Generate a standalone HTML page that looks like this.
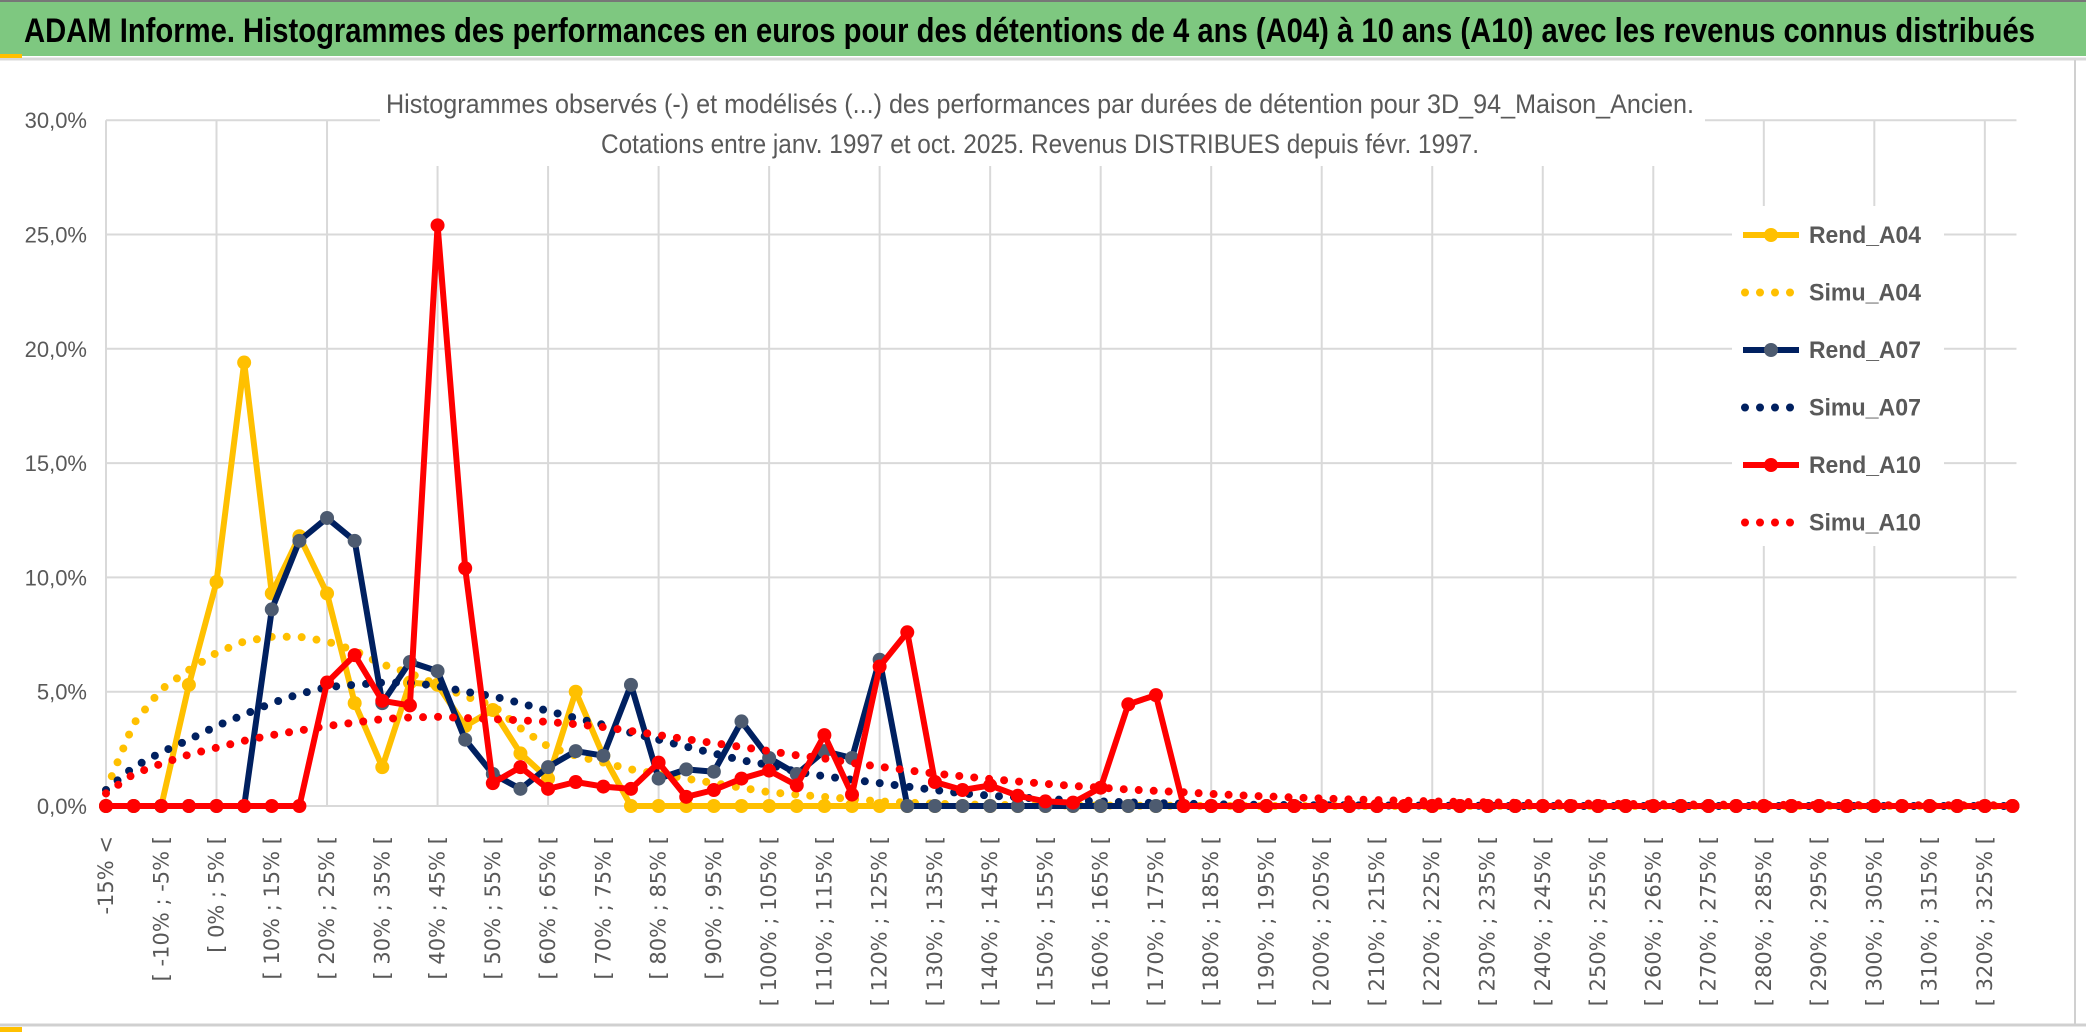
<!DOCTYPE html>
<html><head><meta charset="utf-8"><style>
html,body{margin:0;padding:0;background:#fff;}
svg{display:block;}
</style></head><body>
<svg id="chart" width="2086" height="1033" viewBox="0 0 2086 1033" xmlns="http://www.w3.org/2000/svg">
<rect x="0" y="0" width="2086" height="1033" fill="#fff"/>
<rect x="0" y="0" width="2086" height="56" fill="#7EC880"/>
<line x1="0" y1="1" x2="2086" y2="1" stroke="#777" stroke-width="2"/>
<line x1="0" y1="59" x2="2086" y2="59" stroke="#d9d9d9" stroke-width="3"/>
<rect x="0" y="54" width="22" height="4" fill="#FFC000"/>
<line x1="2075" y1="60" x2="2075" y2="1025" stroke="#d0d0d0" stroke-width="2"/>
<line x1="0" y1="1025" x2="2086" y2="1025" stroke="#d0d0d0" stroke-width="3"/>
<rect x="0" y="1027" width="22" height="5" fill="#FFC000"/>
<text x="24" y="42" font-family="Liberation Sans Narrow, Liberation Sans, sans-serif" font-weight="bold" font-size="34" fill="#000" textLength="2011" lengthAdjust="spacingAndGlyphs">ADAM Informe. Histogrammes des performances en euros pour des détentions de 4 ans (A04) à 10 ans (A10) avec les revenus connus distribués</text>
<g id="grid"></g>
<g id="yaxis"></g>
<g id="xaxis"></g>
<rect x="380" y="82" width="1325" height="84" fill="#fff"/>
<text x="1040" y="113" text-anchor="middle" font-family="Liberation Sans Narrow, Liberation Sans, sans-serif" font-size="27" fill="#595959" textLength="1308" lengthAdjust="spacingAndGlyphs">Histogrammes observés (-) et modélisés (...) des performances par durées de détention pour 3D_94_Maison_Ancien.</text>
<text x="1040" y="153" text-anchor="middle" font-family="Liberation Sans Narrow, Liberation Sans, sans-serif" font-size="27" fill="#595959" textLength="878" lengthAdjust="spacingAndGlyphs">Cotations entre janv. 1997 et oct. 2025. Revenus DISTRIBUES depuis févr. 1997.</text>
<g id="series"></g>
<rect x="1732" y="206" width="212" height="340" fill="#fff"/>
<g id="legend"></g>
</svg>
<script>
const rendA04 = [0,0,0,5.3,9.8,19.4,9.3,11.8,9.3,4.5,1.7,5.4,5.3,3.5,4.2,2.3,1.2,5.0,2.2,0,0,0,0,0,0,0,0,0,0,0,0,0,0,0,0,0,0,0,0,0,0,0,0,0,0,0,0,0,0,0,0,0,0,0,0,0,0,0,0,0,0,0,0,0,0,0,0,0,0,0];
const simuA04 = [0.7,3.6,5.1,5.95,6.7,7.2,7.4,7.4,7.2,6.8,6.2,5.8,5.3,4.8,4.4,3.4,2.6,2.2,1.9,1.6,1.4,1.2,1.0,0.8,0.6,0.5,0.4,0.3,0.2,0.15,0.1,0.07,0.05,0.04,0.03,0.02,0.02,0.01,0.01,0.01,0,0,0,0,0,0,0,0,0,0,0,0,0,0,0,0,0,0,0,0,0,0,0,0,0,0,0,0,0,0];
const rendA07 = [0,0,0,0,0,0,8.6,11.6,12.6,11.6,4.5,6.3,5.9,2.9,1.4,0.75,1.7,2.4,2.2,5.3,1.2,1.6,1.5,3.7,2.1,1.4,2.4,2.1,6.4,0,0,0,0,0,0,0,0,0,0,0,0,0,0,0,0,0,0,0,0,0,0,0,0,0,0,0,0,0,0,0,0,0,0,0,0,0,0,0,0,0];
const simuA07 = [0.7,1.7,2.35,2.9,3.5,4.0,4.5,4.9,5.2,5.3,5.4,5.4,5.25,5.0,4.8,4.5,4.15,3.85,3.55,3.2,2.9,2.6,2.3,2.0,1.8,1.5,1.3,1.15,1.0,0.85,0.7,0.55,0.45,0.38,0.3,0.25,0.2,0.16,0.13,0.1,0.08,0.06,0.05,0.04,0.03,0.03,0.02,0.02,0.01,0.01,0.01,0,0,0,0,0,0,0,0,0,0,0,0,0,0,0,0,0,0,0];
const rendA10 = [0,0,0,0,0,0,0,0,5.4,6.6,4.6,4.4,25.4,10.4,1.0,1.7,0.75,1.05,0.85,0.75,1.9,0.4,0.7,1.2,1.55,0.9,3.1,0.5,6.1,7.6,1.05,0.7,0.9,0.45,0.2,0.15,0.8,4.45,4.85,0,0,0,0,0,0,0,0,0,0,0,0,0,0,0,0,0,0,0,0,0,0,0,0,0,0,0,0,0,0,0];
const simuA10 = [0.55,1.4,1.85,2.25,2.55,2.85,3.1,3.3,3.5,3.65,3.8,3.87,3.9,3.85,3.8,3.75,3.68,3.58,3.45,3.28,3.1,2.92,2.75,2.58,2.4,2.22,2.08,1.88,1.72,1.56,1.42,1.3,1.18,1.07,0.97,0.88,0.8,0.72,0.66,0.6,0.53,0.47,0.42,0.37,0.33,0.29,0.26,0.23,0.2,0.18,0.16,0.14,0.12,0.11,0.1,0.09,0.08,0.07,0.06,0.06,0.05,0.05,0.04,0.04,0.04,0.03,0.03,0.03,0.03,0.03];
const yTicks = [0,5,10,15,20,25,30];
const yTickLabels = ["0,0%","5,0%","10,0%","15,0%","20,0%","25,0%","30,0%"];
const categories = ["-15% <"];
for (let a = -15; a <= 325; a += 5) categories.push("[ " + a + "% ; " + (a + 5) + "% [");

const NS = "http://www.w3.org/2000/svg";
const X0 = 106, DX = 27.63, Y0 = 806, PY = 22.86;
function xs(i){ return X0 + i * DX; }
function ys(v){ return Y0 - v * PY; }
function mk(tag, attrs, parent){ const e = document.createElementNS(NS, tag); for (const k in attrs) e.setAttribute(k, attrs[k]); parent.appendChild(e); return e; }

const grid = document.getElementById('grid');
const xEnd = xs(categories.length - 1) + 4;
yTicks.forEach((t) => {
  const l = mk('line', {x1: X0, x2: xEnd, y1: ys(t), y2: ys(t), stroke: '#d9d9d9', 'stroke-width': 2}, grid);
  
  
});
for (let i = 0; i < categories.length; i += 4) {
  const l = mk('line', {x1: xs(i), x2: xs(i), y1: ys(30), y2: Y0, stroke: '#d9d9d9', 'stroke-width': 2}, grid);
  
  
}
const ya = document.getElementById('yaxis');
yTicks.forEach((t, k) => {
  const tx = mk('text', {x: 87, y: ys(t) + 8, 'text-anchor': 'end', 'font-family': 'Liberation Sans Narrow, Liberation Sans, sans-serif', 'font-size': 22, fill: '#595959'}, ya);
  tx.textContent = yTickLabels[k];
  
  
});
const xa = document.getElementById('xaxis');
categories.forEach((c, i) => {
  if (i % 2) return;
  const x = xs(i) + 7, y = 836;
  const tx = mk('text', {x: x, y: y, transform: 'rotate(-90 ' + x + ' ' + y + ')', 'text-anchor': 'end', 'font-family': 'DejaVu Sans, sans-serif', 'font-size': 21, fill: '#595959'}, xa);
  tx.textContent = c;
  
  
});

const series = document.getElementById('series');
function pts(arr){ return arr.map((v, i) => xs(i).toFixed(1) + ',' + ys(v).toFixed(1)).join(' '); }
function dotted(arr, color, name){
  const p = mk('polyline', {points: pts(arr), fill: 'none', stroke: color, 'stroke-width': 8, 'stroke-linecap': 'round', 'stroke-dasharray': '0 15'}, series);
  
  
}
function solid(arr, color, mcolor, name){
  const g = mk('g', {}, series);
  
  
  mk('polyline', {points: pts(arr), fill: 'none', stroke: color, 'stroke-width': 6, 'stroke-linejoin': 'round'}, g);
  arr.forEach((v, i) => {
    const c = mk('circle', {cx: xs(i), cy: ys(v), r: 7, fill: mcolor}, g);
    
    
  });
}
dotted(simuA04, '#FFC000', 'simu-a04-line');
solid(rendA04, '#FFC000', '#FFC000', 'rend-a04-line');
dotted(simuA07, '#002060', 'simu-a07-line');
solid(rendA07, '#002060', '#4D5B70', 'rend-a07-line');
dotted(simuA10, '#FF0000', 'simu-a10-line');
solid(rendA10, '#FF0000', '#FF0000', 'rend-a10-line');

const legendNames = ["Rend_A04","Simu_A04","Rend_A07","Simu_A07","Rend_A10","Simu_A10"];
const legendColors = ["#FFC000","#FFC000","#002060","#002060","#FF0000","#FF0000"];
const lg = document.getElementById('legend');
legendNames.forEach((n, k) => {
  const y = 235 + k * 57.5;
  const g = mk('g', {}, lg);
  
  
  if (n.startsWith('Rend')) {
    mk('line', {x1: 1743, x2: 1799, y1: y, y2: y, stroke: legendColors[k], 'stroke-width': 6}, g);
    mk('circle', {cx: 1771, cy: y, r: 7, fill: k === 2 ? '#4D5B70' : legendColors[k]}, g);
  } else {
    mk('line', {x1: 1745, x2: 1800, y1: y, y2: y, stroke: legendColors[k], 'stroke-width': 8, 'stroke-linecap': 'round', 'stroke-dasharray': '0 15'}, g);
  }
  const t = mk('text', {x: 1809, y: y + 8, 'font-family': 'Liberation Sans Narrow, Liberation Sans, sans-serif', 'font-weight': 'bold', 'font-size': 24, fill: '#595959', textLength: 112, lengthAdjust: 'spacingAndGlyphs'}, g);
  t.textContent = n;
});
</script>
</body></html>
